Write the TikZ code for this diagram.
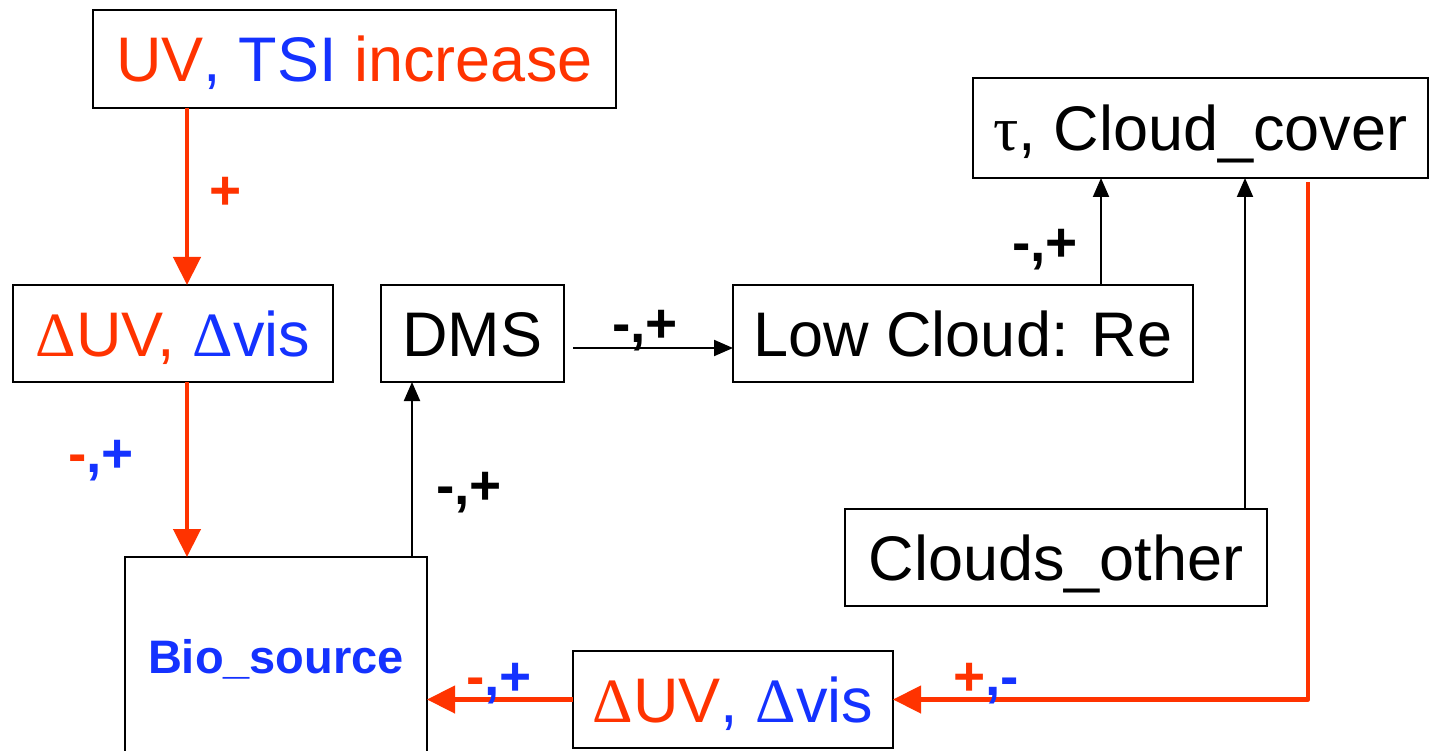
\documentclass[tikz,border=0pt]{standalone}
\usepackage{fontspec}
\setmainfont{Liberation Sans}
\newfontfamily\symfont{Liberation Serif}
\usetikzlibrary{arrows.meta}
\definecolor{fbred}{RGB}{255,51,0}
\definecolor{fbblue}{RGB}{20,50,255}
\newcommand\gDelta{{\symfont Δ}}
\newcommand\gtau{{\symfont τ}}
\newcommand\rd[1]{\textcolor{fbred}{#1}}
\newcommand\bl[1]{\textcolor{fbblue}{#1}}
\begin{document}
\begin{tikzpicture}[x=1pt,y=-1pt,
  box/.style={draw=black, line width=2.2pt, inner sep=0pt, outer sep=0pt,
    font=\fontsize{63}{70}\selectfont, text height=45pt, text depth=0pt},
  sign/.style={inner sep=0pt, font=\bfseries\fontsize{55}{60}\selectfont,
    text height=39pt, text depth=0pt},
  redarrow/.style={draw=fbred, line width=4.5pt, line join=round,
    -{Triangle[length=28pt,width=27pt]}},
  blkarrow/.style={draw=black, line width=2pt,
    -{Triangle[length=19pt,width=16pt]}}]
\useasboundingbox (0,0) rectangle (1429,751);

% boxes
\node[box, minimum width=523pt, minimum height=98pt] (top) at (354.5,59)
  {\rd{UV}\bl{, TSI }\rd{increase}};
\node[box, minimum width=320pt, minimum height=97pt] (dl) at (173,333.5)
  {\rd{\gDelta UV, }\bl{\gDelta vis}};
\node[box, minimum width=183pt, minimum height=97pt] (dms) at (472.5,333.5) {DMS};
\node[box, minimum width=460pt, minimum height=97pt] (low) at (963,333.5) {Low Cloud: Re};
\node[box, minimum width=455pt, minimum height=100pt] (tau) at (1200.5,128) {\gtau, Cloud\_cover};
\node[box, minimum width=422pt, minimum height=97pt] (other) at (1056,557.5) {Clouds\_other};
\node[box, minimum width=302pt, minimum height=200pt, text height=33pt,
  font=\bfseries\fontsize{47}{52}\selectfont, text=fbblue] (bio) at (276,657) {Bio\_source};
\node[box, minimum width=320pt, minimum height=97pt] (db) at (733,699.5)
  {\rd{\gDelta UV}\bl{, \gDelta vis}};

% connector columns and rows
\coordinate (xa) at (187,0);
\coordinate (xb) at (412,0);
\coordinate (xl) at (1101,0);
\coordinate (xo) at (1245,0);
\coordinate (xr) at (1308,0);
\coordinate (yd) at (0,348);

% connectors
\draw[redarrow] (top.south -| xa) -- (dl.north -| xa);
\draw[redarrow] (dl.south -| xa) -- (bio.north -| xa);
\draw[blkarrow] (bio.north -| xb) -- (dms.south -| xb);
\draw[blkarrow] ([xshift=9pt]dms.east |- yd) -- (low.west |- yd);
\draw[blkarrow] (low.north -| xl) -- (tau.south -| xl);
\draw[blkarrow] (other.north -| xo) -- (tau.south -| xo);
\draw[redarrow] ([yshift=-4pt]tau.south -| xr) -- (xr |- db.east) -- (db.east);
\draw[redarrow] (db.west) -- (db.west -| bio.east);

% signs
\node[sign, text=fbred] (s1) at (226,190) {+};
\node[sign] (s2) at (101,453) {\rd{-}\bl{,+}};
\node[sign] (s3) at (469,485) {-,+};
\node[sign] (s4) at (645,323) {-,+};
\node[sign] (s5) at (1045,242) {-,+};
\node[sign] (s6) at (499,676) {\rd{-}\bl{,+}};
\node[sign] (s7) at (986,676) {\rd{+}\bl{,-}};
\end{tikzpicture}
\end{document}
